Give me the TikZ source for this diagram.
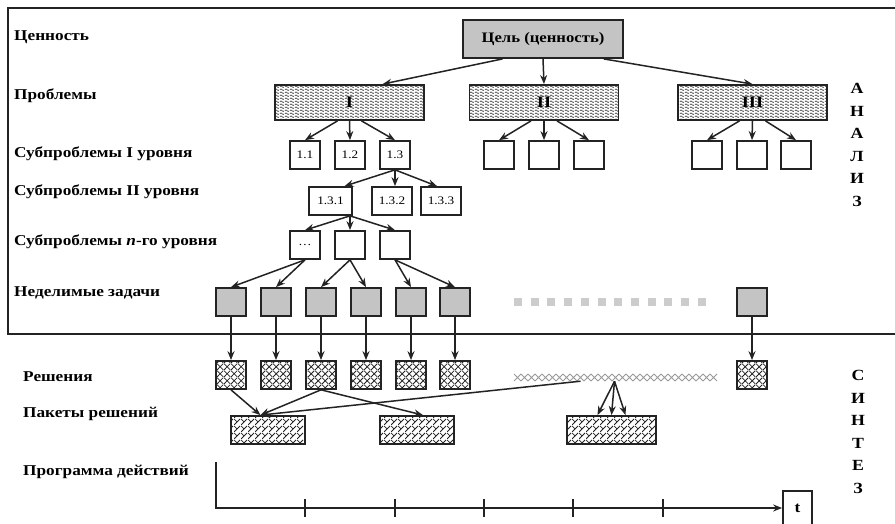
\documentclass[tikz,border=0pt]{standalone}
\usepackage{fontspec}
\setmainfont{Liberation Serif}[FakeStretch=1.15]
\usetikzlibrary{arrows.meta, patterns, calc}

\definecolor{boxgray}{RGB}{196,196,196}
\definecolor{dotgray}{RGB}{204,204,204}
\definecolor{linegray}{RGB}{35,35,35}

\pgfdeclarepatternformonly{wavelines}{\pgfpointorigin}{\pgfpoint{5pt}{3.2pt}}{\pgfpoint{5pt}{3.2pt}}{%
  \pgfsetlinewidth{0.65pt}
  \pgfpathmoveto{\pgfpoint{0pt}{1.6pt}}
  \pgfpathcurveto{\pgfpoint{0.8pt}{3pt}}{\pgfpoint{1.7pt}{3pt}}{\pgfpoint{2.5pt}{1.6pt}}
  \pgfpathcurveto{\pgfpoint{3.3pt}{0.2pt}}{\pgfpoint{4.2pt}{0.2pt}}{\pgfpoint{5pt}{1.6pt}}
  \pgfusepath{stroke}}
\pgfdeclarepatternformonly{diagcross}{\pgfpointorigin}{\pgfpoint{7pt}{7pt}}{\pgfpoint{7pt}{7pt}}{%
  \pgfsetlinewidth{0.8pt}
  \pgfpathmoveto{\pgfpointorigin}\pgfpathlineto{\pgfpoint{7pt}{7pt}}
  \pgfpathmoveto{\pgfpoint{0pt}{7pt}}\pgfpathlineto{\pgfpoint{7pt}{0pt}}
  \pgfusepath{stroke}}
\pgfdeclarepatternformonly{diagbricks}{\pgfpointorigin}{\pgfpoint{6.5pt}{6.5pt}}{\pgfpoint{6.5pt}{6.5pt}}{%
  \pgfsetlinewidth{0.8pt}
  \pgfpathmoveto{\pgfpointorigin}\pgfpathlineto{\pgfpoint{6.5pt}{6.5pt}}
  \pgfpathmoveto{\pgfpoint{3.25pt}{3.25pt}}\pgfpathlineto{\pgfpoint{0pt}{6.5pt}}
  \pgfusepath{stroke}}

\begin{document}
\begin{tikzpicture}[x=1pt, y=-1pt,
    rowlabel/.style = {anchor=west, inner sep=0pt, font=\fontsize{15}{17}\selectfont\bfseries},
    stage/.style = {align=center, inner sep=0pt, font=\fontsize{15.5}{22.5}\selectfont\bfseries},
    goal/.style = {rectangle, draw=linegray, line width=1.8pt, fill=boxgray, minimum width=160pt, minimum height=38pt, font=\fontsize{14.5}{17}\selectfont\bfseries},
    problem/.style = {rectangle, draw=linegray, line width=1.8pt, pattern=wavelines, pattern color=linegray!90, minimum width=149pt, minimum height=35pt, font=\fontsize{16}{18}\selectfont\bfseries},
    subbox/.style = {rectangle, draw=linegray, line width=1.7pt, fill=white, minimum width=30pt, minimum height=28pt, inner sep=1pt, font=\fontsize{11.5}{13}\selectfont},
    task/.style = {subbox, fill=boxgray},
    solution/.style = {subbox, pattern=diagcross, pattern color=linegray},
    bundle/.style = {rectangle, draw=linegray, line width=1.8pt, pattern=diagbricks, pattern color=linegray, minimum height=28pt},
    strip/.style = {rectangle, inner sep=0pt, minimum width=201pt, minimum height=7pt},
    arr/.style = {->, draw=linegray, line width=1.5pt},
    >={Stealth[length=9pt, width=7pt]}]

    \useasboundingbox (0,0) rectangle (895,524);

    % analysis frame
    \draw[linegray, line width=1.7pt] (895,8) -- (8,8) -- (8,334) -- (895,334);

    % row labels
    \node[rowlabel] (lvalue) at (14,37) {Ценность};
    \node[rowlabel] (lprob) at (14,96) {Проблемы};
    \node[rowlabel] (lsub1) at (14,154) {Субпроблемы I уровня};
    \node[rowlabel] (lsub2) at (14,192) {Субпроблемы II уровня};
    \node[rowlabel] (lsubn) at (14,242) {Субпроблемы \textit{n}-го уровня};
    \node[rowlabel] (ltask) at (14,293) {Неделимые задачи};
    \node[rowlabel] (lsol) at (23,377) {Решения};
    \node[rowlabel] (lpack) at (23,414) {Пакеты решений};
    \node[rowlabel] (lprog) at (23,472) {Программа действий};

    \node[stage] (analysis) at (857,145) {А\\Н\\А\\Л\\И\\З};
    \node[stage] (synthesis) at (858,432) {С\\И\\Н\\Т\\Е\\З};

    % tree
    \node[goal] (goal) at (543,39) {Цель (ценность)};
    \node[problem] (prob1) at (349.5,102.5) {I};
    \node[problem] (prob2) at (544,102.5) {II};
    \node[problem] (prob3) at (752.5,102.5) {III};

    \node[subbox] (s11) at (305,155) {1.1};
    \node[subbox] (s12) at (350,155) {1.2};
    \node[subbox] (s13) at (395,155) {1.3};
    \node[subbox] (s21) at (499,155) {};
    \node[subbox] (s22) at (544,155) {};
    \node[subbox] (s23) at (589,155) {};
    \node[subbox] (s31) at (707,155) {};
    \node[subbox] (s32) at (752,155) {};
    \node[subbox] (s33) at (796,155) {};

    \node[subbox, minimum width=43pt] (l131) at (330.5,201) {1.3.1};
    \node[subbox, minimum width=40pt] (l132) at (392,201) {1.3.2};
    \node[subbox, minimum width=40pt] (l133) at (441,201) {1.3.3};

    \node[subbox] (n1) at (305,245) {\dots};
    \node[subbox] (n2) at (350,245) {};
    \node[subbox] (n3) at (395,245) {};

    \node[task] (t1) at (231,302) {};
    \node[task] (t2) at (276,302) {};
    \node[task] (t3) at (321,302) {};
    \node[task] (t4) at (366,302) {};
    \node[task] (t5) at (411,302) {};
    \node[task] (t6) at (455,302) {};
    \node[task] (t7) at (752,302) {};
    \foreach \i in {0,...,11}
        \fill[dotgray] ({514+16.7*\i},298) rectangle +(8,8);

    % synthesis
    \node[solution] (r1) at (231,375) {};
    \node[solution] (r2) at (276,375) {};
    \node[solution] (r3) at (321,375) {};
    \node[solution] (r4) at (366,375) {};
    \node[solution] (r5) at (411,375) {};
    \node[solution] (r6) at (455,375) {};
    \node[solution] (r7) at (752,375) {};
    \node[strip] (solstrip) at (614.5,377.5) {};
    \foreach \i in {0,...,28}
        \draw[gray!80, line width=0.8pt] ({514+7*\i},374) -- +(7,7) ({514+7*\i},381) -- +(7,-7);

    \node[bundle, minimum width=74pt] (pk1) at (268,430) {};
    \node[bundle, minimum width=74pt] (pk2) at (417,430) {};
    \node[bundle, minimum width=89pt] (pk3) at (611.5,430) {};
    \coordinate (pin1) at ($(pk1.north west)!0.4!(pk1.north east)$);

    \coordinate (ttop) at (216,462);
    \coordinate (torig) at (216,508);
    \node[rectangle, draw=linegray, line width=1.7pt, minimum width=29pt, minimum height=34pt, font=\fontsize{15}{17}\selectfont\bfseries] (tend) at (797.5,508) {t};

    % connectors
    \draw[arr] ($(goal.south west)!0.25!(goal.south east)$) -- ($(prob1.north west)!0.72!(prob1.north east)$);
    \draw[arr] (goal.south) -- (prob2.north);
    \draw[arr] ($(goal.south west)!0.875!(goal.south east)$) -- (prob3.north);

    \draw[arr] ($(prob1.south)+(-12,0)$) -- (s11.north);
    \draw[arr] (prob1.south) -- (s12.north);
    \draw[arr] ($(prob1.south)+(12,0)$) -- (s13.north);
    \draw[arr] ($(prob2.south)+(-13,0)$) -- (s21.north);
    \draw[arr] (prob2.south) -- (s22.north);
    \draw[arr] ($(prob2.south)+(13,0)$) -- (s23.north);
    \draw[arr] ($(prob3.south)+(-13,0)$) -- (s31.north);
    \draw[arr] (prob3.south) -- (s32.north);
    \draw[arr] ($(prob3.south)+(13,0)$) -- (s33.north);

    \draw[arr] (s13.south) -- ($(l131.north)+(14,0)$);
    \draw[arr] (s13.south) -- (s13.south |- l132.north);
    \draw[arr] (s13.south) -- ($(l133.north)+(-4,0)$);

    \draw[arr] (n2.north |- l131.south) -- (n1.north);
    \draw[arr] (n2.north |- l131.south) -- (n2.north);
    \draw[arr] (n2.north |- l131.south) -- (n3.north);

    \draw[arr] (n1.south) -- (t1.north);
    \draw[arr] (n1.south) -- (t2.north);
    \draw[arr] (n2.south) -- (t3.north);
    \draw[arr] (n2.south) -- (t4.north);
    \draw[arr] (n3.south) -- (t5.north);
    \draw[arr] (n3.south) -- (t6.north);

    \draw[arr] (t1) -- (r1);
    \draw[arr] (t2) -- (r2);
    \draw[arr] (t3) -- (r3);
    \draw[arr] (t4) -- (r4);
    \draw[arr] (t5) -- (r5);
    \draw[arr] (t6) -- (r6);
    \draw[arr] (t7) -- (r7);

    \draw[arr] (r1.south) -- (pin1);
    \draw[arr] (r3.south) -- (pin1);
    \draw[arr] (r3.south) -- ($(pk2.north)+(6,0)$);
    \draw[arr] ($(solstrip.south)+(-34,0)$) -- (pin1);
    \draw[arr] (solstrip.south) -- ($(pk3.north)+(-14,0)$);
    \draw[arr] (solstrip.south) -- (pk3.north);
    \draw[arr] (solstrip.south) -- ($(pk3.north)+(14,0)$);

    % time axis
    \draw[arr] (ttop) -- (torig) -- (tend.west);
    \foreach \x in {305,395,484,573,663}
        \draw[linegray, line width=1.5pt] (\x,499) -- (\x,517);
\end{tikzpicture}
\end{document}
